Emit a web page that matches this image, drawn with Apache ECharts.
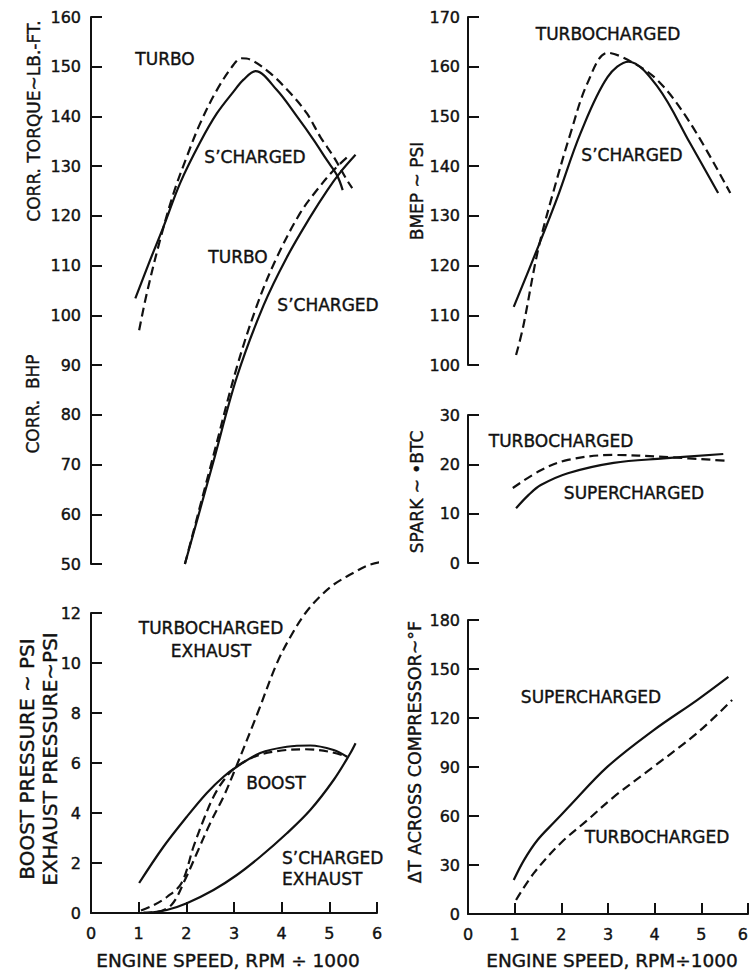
<!DOCTYPE html>
<html>
<head>
<meta charset="utf-8">
<title>Supercharged vs turbocharged engine performance</title>
<script src="https://cdn.jsdelivr.net/npm/echarts@6.0.0/dist/echarts.min.js"></script>
<style>
  html, body { margin: 0; padding: 0; background: #ffffff; }
  #chart { width: 749px; height: 979px; }
</style>
</head>
<body>
<div id="chart"></div>
<script>
// Engine speed in RPM / 1000 on every x axis
const speedTicks = [0, 1, 2, 3, 4, 5, 6];

// Corrected torque (lb-ft) and corrected BHP share the top-left scale
const torqueSupercharged = [[0.93,103.4],[1.24,111.1],[1.52,117.8],[1.87,126.6],[2.29,134.8],[2.64,140.6],[2.99,145],[3.2,147.4],[3.45,149.1],[3.9,145.3],[4.32,140],[4.67,135.3],[4.95,131.2],[5.16,128.2],[5.28,125.2]];
const torqueTurbo = [[1.01,97],[1.17,104.4],[1.45,115.2],[1.73,124.5],[2.01,131.9],[2.29,138.6],[2.64,145.3],[2.99,150.4],[3.15,151.7],[3.35,151.4],[3.76,148.7],[4.18,144.7],[4.53,140.6],[4.81,135.9],[5.09,131.9],[5.37,127.2],[5.48,125.6]];
const bhpSupercharged = [[1.97,50],[2.56,70.3],[3.06,87.6],[3.62,102],[4.11,111.7],[4.6,119.8],[4.96,125.2],[5.25,129],[5.55,132.3]];
const bhpTurbo = [[1.97,50],[2.56,71.5],[3.06,89.6],[3.5,102.5],[3.9,111.7],[4.39,120.6],[4.74,125.2],[5.1,129.3],[5.42,132.2]];

// Boost and exhaust pressure (psi)
const boostSupercharged = [[1.01,1.2],[1.52,2.65],[2.01,3.85],[2.43,4.8],[2.78,5.45],[3.06,5.85],[3.55,6.4],[4.11,6.65],[4.6,6.7],[5.09,6.52],[5.37,6.25]];
const boostTurbo = [[1.05,0.1],[1.3,0.3],[1.6,0.65],[1.9,1.2],[2.15,2.65],[2.36,3.72],[2.57,4.65],[2.8,5.35],[3.05,5.85],[3.5,6.3],[4.0,6.5],[4.5,6.55],[5.0,6.45],[5.37,6.25]];
const exhaustTurbo = [[1.1,0.02],[1.4,0.05],[1.7,0.35],[1.97,1.32],[2.22,2.39],[2.5,3.59],[2.78,4.65],[2.99,5.59],[3.48,7.92],[3.9,9.99],[4.2,11.1],[4.5,12.0],[4.8,12.65],[5.1,13.15],[5.5,13.6],[5.8,13.9],[6.1,14.05]];
const exhaustSupercharged = [[1.17,0],[1.59,0.12],[2.01,0.39],[2.57,0.92],[3.06,1.52],[3.55,2.25],[4.11,3.19],[4.6,4.12],[5.09,5.32],[5.44,6.39],[5.55,6.79]];

// BMEP (psi)
const bmepSupercharged = [[0.98,111.7],[1.5,123.7],[1.92,133.8],[2.41,146.6],[2.99,157.9],[3.44,161],[4.06,156],[4.76,144.6],[5.36,134.6]];
const bmepTurbo = [[1.03,102],[1.18,107.6],[1.5,123.1],[1.84,135.2],[2.2,146.7],[2.56,156.7],[2.99,162.8],[3.42,161.4],[4.06,157.3],[4.76,148.7],[5.62,134.6]];

// Spark advance (degrees BTC)
const sparkSupercharged = [[1.03,11.1],[1.3,13.8],[1.56,15.8],[2.14,18.2],[3.12,20.3],[4.19,21.2],[5.47,22.1]];
const sparkTurbo = [[0.96,15.2],[1.56,18.8],[2.14,20.9],[3.12,21.9],[4.19,21.5],[5.58,20.7]];

// Temperature rise across the compressor (deg F)
const deltaTSupercharged = [[0.98,20.8],[1.2,33],[1.49,45.3],[1.84,56],[2.14,65],[2.99,90.2],[3.98,112.6],[4.91,131],[5.58,145.2]];
const deltaTTurbo = [[1.03,8.6],[1.41,25],[1.99,43.5],[2.56,57.5],[3.12,71.6],[3.97,90],[4.91,110.8],[5.66,131]];

// y-axis scales per panel: [min, max, interval]
const torqueScale = [50, 160, 10];
const pressureScale = [0, 12, 2];
const bmepScale = [100, 170, 10];
const sparkScale = [0, 30, 10];
const deltaTScale = [0, 180, 30];

const INK = '#111111';
const FONT = '"DejaVu Sans", "Liberation Sans", sans-serif';

const grids = [
  { left: 91,  top: 17,  width: 286, height: 547 },
  { left: 91,  top: 613, width: 286, height: 300 },
  { left: 468, top: 17,  width: 280, height: 348 },
  { left: 468, top: 415, width: 280, height: 148 },
  { left: 468, top: 620, width: 280, height: 294 }
].map(g => Object.assign({ containLabel: false, outerBoundsMode: 'none' }, g));

function xAxisFor(i, visible, alignLast) {
  return {
    gridIndex: i, type: 'value',
    min: speedTicks[0], max: speedTicks[speedTicks.length - 1], interval: 1,
    show: visible,
    axisLine: { show: true, onZero: false, lineStyle: { color: INK, width: 2 } },
    axisTick: { show: true, inside: true, length: 11, lineStyle: { color: INK, width: 2 } },
    axisLabel: { show: true, color: INK, fontSize: 16, fontFamily: FONT, margin: 12,
                 textBorderColor: INK, textBorderWidth: 0.4,
                 alignMaxLabel: alignLast ? 'right' : null },
    splitLine: { show: false }
  };
}

function yAxisFor(i, scale, margin) {
  return {
    gridIndex: i, type: 'value',
    min: scale[0], max: scale[1], interval: scale[2],
    axisLine: { show: true, onZero: false, lineStyle: { color: INK, width: 2 } },
    axisTick: { show: true, inside: true, length: 11, lineStyle: { color: INK, width: 2 } },
    axisLabel: { color: INK, fontSize: 16, fontFamily: FONT, margin: margin,
                 textBorderColor: INK, textBorderWidth: 0.4 },
    splitLine: { show: false }
  };
}

function curve(data, gridIdx, dashed, extra) {
  return Object.assign({
    type: 'line',
    xAxisIndex: gridIdx, yAxisIndex: gridIdx,
    data: data,
    showSymbol: false,
    smooth: 0.35,
    silent: true,
    lineStyle: { color: INK, width: 2.2, type: dashed ? [9, 5] : 'solid', cap: 'butt' }
  }, extra || {});
}

function label(text, x, y, opts) {
  opts = opts || {};
  return {
    type: 'text', x: x, y: y,
    rotation: opts.rotate ? Math.PI / 2 : 0,
    silent: true,
    style: {
      text: text, fill: INK,
      font: (opts.size || 17) + 'px ' + FONT,
      stroke: INK, lineWidth: 0.4,
      textAlign: opts.align || 'center', align: opts.align || 'center',
      textVerticalAlign: 'middle', verticalAlign: 'middle'
    }
  };
}

const chart = echarts.init(document.getElementById('chart'), null, { renderer: 'svg' });

chart.setOption({
  animation: false,
  backgroundColor: '#ffffff',
  grid: grids,
  xAxis: [
    xAxisFor(0, false), xAxisFor(1, true), xAxisFor(2, false), xAxisFor(3, false), xAxisFor(4, true, true)
  ],
  yAxis: [
    yAxisFor(0, torqueScale, 10),
    yAxisFor(1, pressureScale, 10),
    yAxisFor(2, bmepScale, 8),
    yAxisFor(3, sparkScale, 8),
    yAxisFor(4, deltaTScale, 8)
  ],
  series: [
    curve(torqueSupercharged, 0, false),
    curve(torqueTurbo, 0, true),
    curve(bhpSupercharged, 0, false),
    curve(bhpTurbo, 0, true),
    curve(boostSupercharged, 1, false),
    curve(boostTurbo, 1, true),
    curve(exhaustTurbo, 1, true, { clip: false }),
    curve(exhaustSupercharged, 1, false),
    curve(bmepSupercharged, 2, false),
    curve(bmepTurbo, 2, true),
    curve(sparkSupercharged, 3, false),
    curve(sparkTurbo, 3, true),
    curve(deltaTSupercharged, 4, false),
    curve(deltaTTurbo, 4, true)
  ],
  graphic: [
    // axis titles
    label('CORR. TORQUE~LB.-FT.', 34, 121, { rotate: true, size: 17 }),
    label('CORR.  BHP', 33, 404, { rotate: true, size: 17 }),
    label('BOOST PRESSURE ~ PSI', 27, 759, { rotate: true, size: 20 }),
    label('EXHAUST PRESSURE~PSI', 50, 759, { rotate: true, size: 20 }),
    label('BMEP ~ PSI', 417, 191, { rotate: true, size: 17 }),
    label('SPARK ~ \u2022BTC', 417, 492, { rotate: true, size: 17 }),
    label('\u0394T ACROSS COMPRESSOR~\u00B0F', 415, 752, { rotate: true, size: 17.5 }),
    label('ENGINE SPEED, RPM \u00F7 1000', 228, 960, { size: 18.5 }),
    label('ENGINE SPEED, RPM\u00F71000', 612, 960, { size: 18.5 }),
    // curve names, torque / BHP
    label('TURBO', 165, 59),
    label('S\u2019CHARGED', 255, 157),
    label('TURBO', 238, 257),
    label('S\u2019CHARGED', 328, 305),
    // pressure panel
    label('TURBOCHARGED', 211, 628),
    label('EXHAUST', 211, 651),
    label('BOOST', 276, 783),
    label('S\u2019CHARGED', 282, 858, { align: 'left' }),
    label('EXHAUST', 282, 879, { align: 'left' }),
    // BMEP panel
    label('TURBOCHARGED', 608, 34),
    label('S\u2019CHARGED', 632, 155),
    // spark panel
    label('TURBOCHARGED', 561, 441),
    label('SUPERCHARGED', 634, 493),
    // compressor temperature panel
    label('SUPERCHARGED', 591, 697),
    label('TURBOCHARGED', 657, 837)
  ]
});
</script>
</body>
</html>
